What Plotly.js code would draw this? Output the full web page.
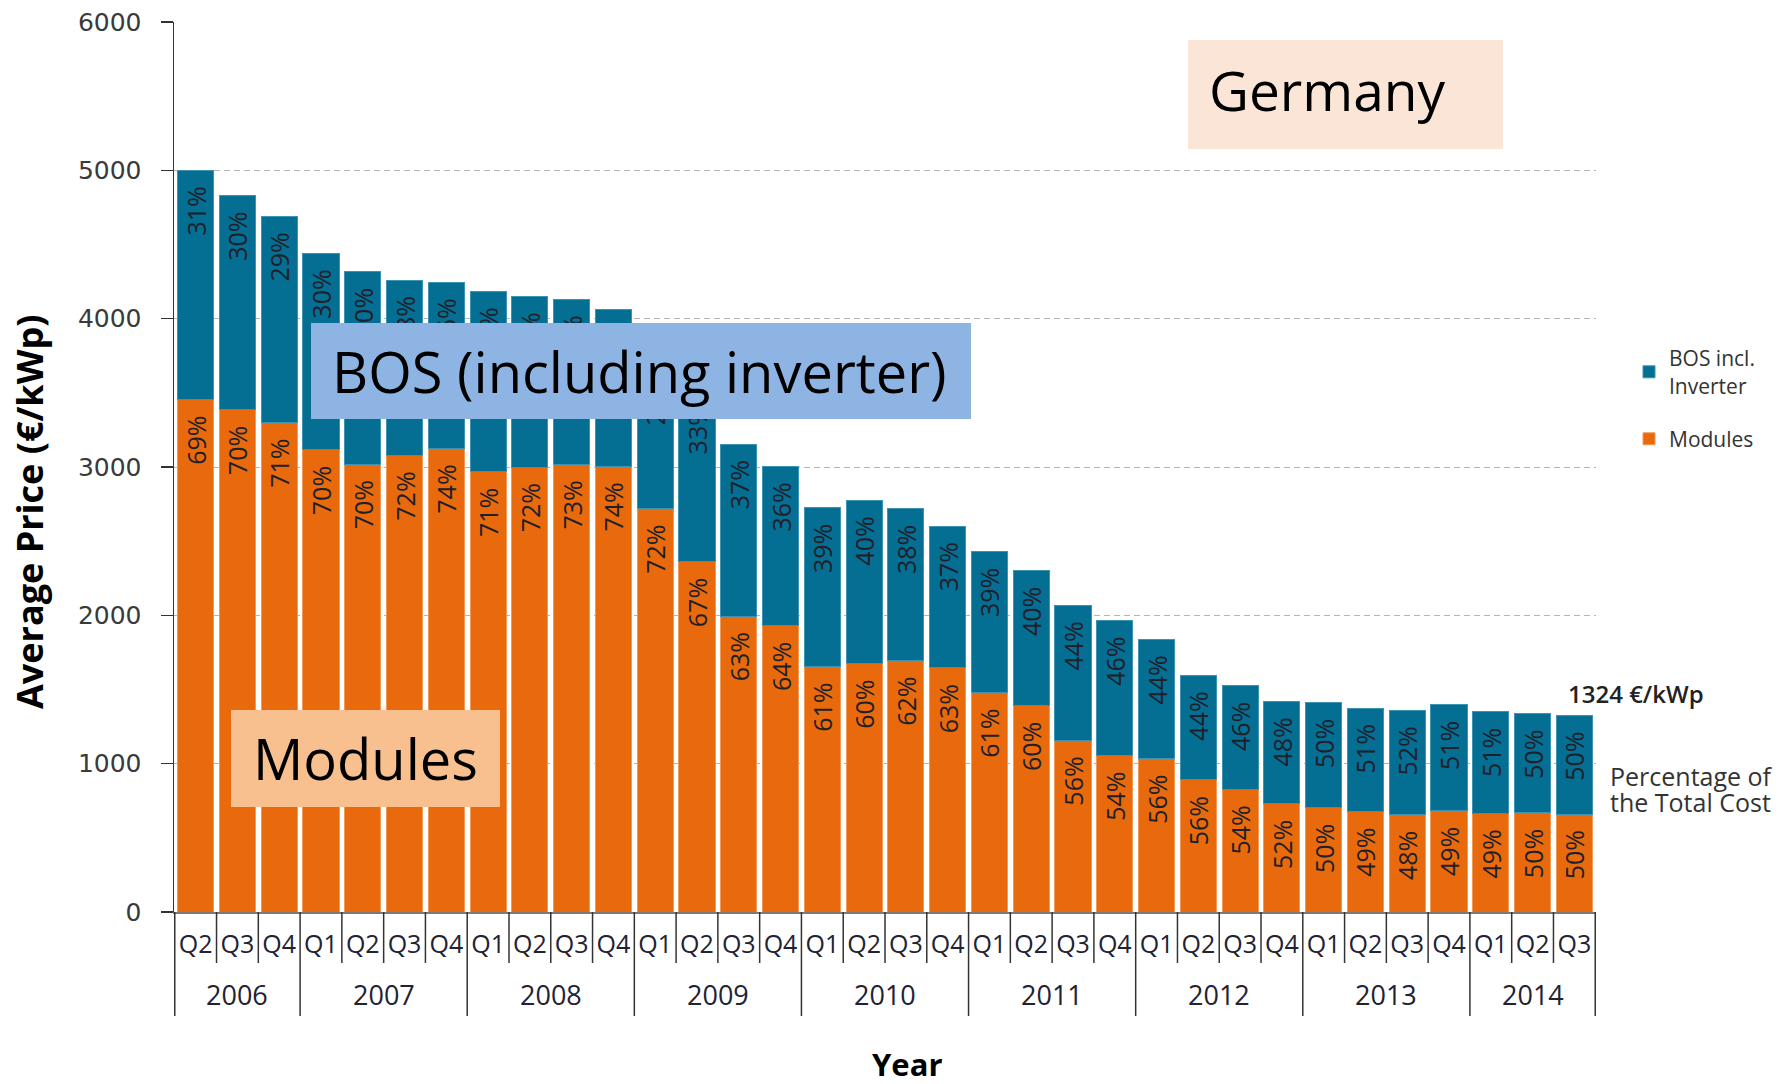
<!DOCTYPE html>
<html>
<head>
<meta charset="utf-8">
<script src="https://cdn.plot.ly/plotly-3.0.1.min.js"></script>
<style>html,body{margin:0;padding:0;background:#fff;}#chart{width:1791px;height:1084px;}</style>
</head>
<body>
<div id="chart"></div>
<script>
// ---- data ----
const years = ['2006','2006','2006',
  '2007','2007','2007','2007',
  '2008','2008','2008','2008',
  '2009','2009','2009','2009',
  '2010','2010','2010','2010',
  '2011','2011','2011','2011',
  '2012','2012','2012','2012',
  '2013','2013','2013','2013',
  '2014','2014','2014'];
const quarters = ['Q2','Q3','Q4',
  'Q1','Q2','Q3','Q4',
  'Q1','Q2','Q3','Q4',
  'Q1','Q2','Q3','Q4',
  'Q1','Q2','Q3','Q4',
  'Q1','Q2','Q3','Q4',
  'Q1','Q2','Q3','Q4',
  'Q1','Q2','Q3','Q4',
  'Q1','Q2','Q3'];
// module price (€/kWp)
const modules = [3455,3385,3300,3115,3020,3078,3125,2968,3000,3018,3005,2720,2360,1995,1930,1655,1675,1695,1645,1480,1390,1157,1055,1035,890,827,730,703,677,655,682,665,668,660];
// BOS incl. inverter price (€/kWp)
const bos = [1545,1445,1390,1325,1295,1182,1120,1217,1150,1112,1055,1000,1165,1160,1075,1070,1100,1023,957,948,910,911,910,803,705,698,690,707,697,705,715,685,670,664];
// percentage labels of the total cost
const modulesPct = [69,70,71,70,70,72,74,71,72,73,74,72,67,63,64,61,60,62,63,61,60,56,54,56,56,54,52,50,49,48,49,49,50,50];
const bosPct = [31,30,29,30,30,28,26,29,28,27,26,28,33,37,36,39,40,38,37,39,40,44,46,44,44,46,48,50,51,52,51,51,50,50];
const yTicks = [0,1000,2000,3000,4000,5000,6000];

// unique category keys (year + quarter); ticks show only the quarter
const catKeys = years.map((y, i) => y + ' ' + quarters[i]);

const cBOS = '#046E93';
const cMod = '#E96A0C';
const pad = '\u00a0\u00a0';
const labelFont = {family: 'Open Sans', size: 25, color: '#20202a'};

const traces = [
  {
    type: 'bar', name: 'Modules', legendgroup: 'mod', legendrank: 2,
    x: catKeys, y: modules,
    marker: {color: cMod, line: {color: '#f29a55', width: 1}},
    text: modulesPct.map(p => p + '%' + pad),
    textposition: 'inside', textangle: -90, insidetextanchor: 'end',
    constraintext: 'none', textfont: labelFont,
    hoverinfo: 'y+name'
  },
  {
    type: 'bar', name: 'BOS incl.<br>Inverter', legendgroup: 'bos', legendrank: 1,
    x: catKeys, y: bos,
    marker: {color: cBOS, line: {color: '#3c93b3', width: 1}},
    text: bosPct.map(p => p + '%' + pad),
    textposition: 'inside', textangle: -90, insidetextanchor: 'end',
    constraintext: 'none', textfont: labelFont,
    hoverinfo: 'y+name'
  }
];

// helpers converting reference pixels to paper coordinates (plot area 174..1596 x 22..912)
const L = 174, R = 1596, T = 22, B = 912;
const px = v => (v - L) / (R - L);
const py = v => (B - v) / (B - T);

const boxes = [
  {x0: 1188, x1: 1503, y0: 40, y1: 149, color: '#FBE5D6'},
  {x0: 311, x1: 971, y0: 323, y1: 419, color: '#8EB4E3'},
  {x0: 231, x1: 500, y0: 710, y1: 807, color: '#F8BF8F'}
];

const shapes = boxes.map(b => ({
  type: 'rect', xref: 'paper', yref: 'paper',
  x0: px(b.x0), x1: px(b.x1), y0: py(b.y1), y1: py(b.y0),
  fillcolor: b.color, line: {width: 0}, layer: 'above'
}));

// quarter separators and year dividers below the axis, on category boundaries
for (let i = 0; i <= catKeys.length; i++) {
  const yearEdge = (i === 0 || i === catKeys.length || years[i] !== years[i - 1]);
  shapes.push({
    type: 'line', xref: 'x', yref: 'paper',
    x0: i - 0.5, x1: i - 0.5, y0: 0, y1: py(yearEdge ? 1016 : 963),
    line: {color: '#333', width: 1.5}, layer: 'above'
  });
}

// year labels centred under each group of quarters
const yearList = years.filter((y, i) => i === 0 || y !== years[i - 1]);
const yearAnn = yearList.map(yr => {
  const idx = years.map((y, i) => y === yr ? i : -1).filter(i => i >= 0);
  return {
    text: yr, xref: 'x', yref: 'paper', showarrow: false,
    x: (idx[0] + idx[idx.length - 1]) / 2, y: py(994),
    xanchor: 'center', yanchor: 'middle',
    font: {family: 'Open Sans', size: 27, color: '#222233'}
  };
});

const bigFont = {family: 'Open Sans', size: 56, color: '#000'};
const annotations = [
  {text: 'Germany', x: px(1207), y: py(89), xanchor: 'left', yanchor: 'middle',
   font: {family: 'Open Sans', size: 55, color: '#000'}},
  {text: 'BOS (including inverter)', x: px(330), y: py(371), xanchor: 'left', yanchor: 'middle', font: bigFont},
  {text: 'Modules', x: px(251), y: py(758), xanchor: 'left', yanchor: 'middle', font: bigFont},
  {text: '1324 €/kWp', x: px(1566), y: py(694), xanchor: 'left', yanchor: 'middle',
   font: {family: 'Open Sans', size: 24, color: '#222', weight: 600}},
  {text: 'Percentage of', x: px(1608), y: py(776), xanchor: 'left', yanchor: 'middle',
   font: {family: 'Open Sans', size: 25, color: '#333'}},
  {text: 'the Total Cost', x: px(1608), y: py(802), xanchor: 'left', yanchor: 'middle',
   font: {family: 'Open Sans', size: 25, color: '#333'}},
  {text: 'Average Price (€/kWp)', x: px(29), y: py(512), xanchor: 'center', yanchor: 'middle',
   textangle: -90, font: {family: 'Open Sans', size: 36, color: '#000', weight: 'bold'}},
  {text: 'Year', x: px(907), y: py(1064), xanchor: 'center', yanchor: 'middle',
   font: {family: 'Open Sans', size: 31, color: '#000', weight: 'bold'}}
].map(a => Object.assign({xref: 'paper', yref: 'paper', showarrow: false}, a)).concat(yearAnn);

const layout = {
  width: 1791, height: 1084,
  margin: {l: L, r: 1791 - R, t: T, b: 1084 - B, autoexpand: false},
  paper_bgcolor: '#fff', plot_bgcolor: '#fff',
  barmode: 'stack', bargap: 0.135,
  showlegend: true,
  legend: {
    x: px(1629), xanchor: 'left', y: py(338), yanchor: 'top',
    traceorder: 'grouped', tracegroupgap: 23, itemwidth: 30,
    font: {family: 'Open Sans', size: 21, color: '#333'},
    bgcolor: 'rgba(0,0,0,0)'
  },
  xaxis: {
    type: 'category',
    tickmode: 'array', tickvals: catKeys, ticktext: quarters,
    showline: true, linecolor: '#7a7a7a', linewidth: 1.5,
    ticks: '', ticklabelstandoff: 9, tickangle: 0,
    tickfont: {family: 'Open Sans', size: 25, color: '#222233'},
    showgrid: false, zeroline: false
  },
  yaxis: {
    range: [0, 6000], tickvals: yTicks, ticktext: yTicks.map(String),
    showline: true, linecolor: '#333', linewidth: 1.5,
    ticks: 'outside', ticklen: 12, tickwidth: 1.5, tickcolor: '#333',
    ticklabelstandoff: 14,
    tickfont: {family: 'DejaVu Sans', size: 25, color: '#3a3a3a'},
    showgrid: true, gridcolor: '#b4b4b4', gridwidth: 1, griddash: '6px,4px',
    zeroline: false
  },
  shapes: shapes,
  annotations: annotations
};

Plotly.newPlot('chart', traces, layout, {displayModeBar: false, staticPlot: true});
</script>
</body>
</html>
